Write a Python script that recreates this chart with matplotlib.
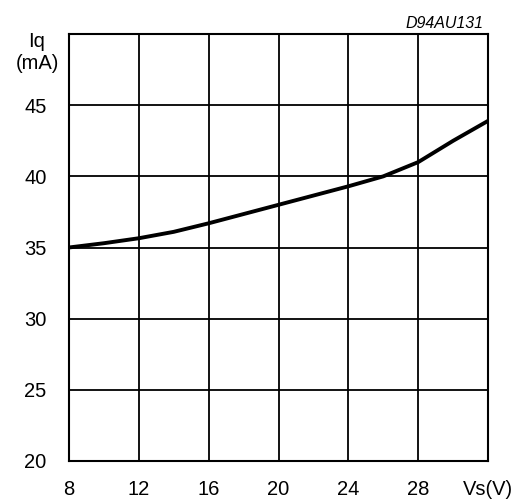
import matplotlib.pyplot as plt

plt.rcParams['font.family'] = ['Liberation Sans', 'DejaVu Sans']

# supply voltage (V) and quiescent current (mA)
vs = [8, 10, 12, 14, 16, 18, 20, 22, 24, 26, 27, 28, 30, 32]
iq = [35.0, 35.3, 35.65, 36.1, 36.7, 37.35, 38.0, 38.65, 39.3, 40.0, 40.5, 41.0, 42.5, 43.9]

x_ticks = [8, 12, 16, 20, 24, 28, 32]
x_labels = ['8', '12', '16', '20', '24', '28', 'Vs(V)']
y_ticks = [20, 25, 30, 35, 40, 45, 50]
y_labels = ['20', '25', '30', '35', '40', '45', '']

fig = plt.figure(figsize=(5.3, 5.0), dpi=100)
ax = fig.add_axes([0.130, 0.078, 0.791, 0.854])

ax.plot(vs, iq, color='black', linewidth=2.8, solid_capstyle='butt', zorder=3)

ax.set_xlim(8, 32)
ax.set_ylim(20, 50)
ax.set_xticks(x_ticks)
ax.set_xticklabels(x_labels)
ax.set_yticks(y_ticks)
ax.set_yticklabels(y_labels)
ax.tick_params(length=0, labelsize=14.5)
ax.tick_params(axis='x', pad=14)
ax.tick_params(axis='y', pad=16)
ax.grid(True, color='black', linewidth=1.3)
for sp in ax.spines.values():
    sp.set_linewidth(1.5)

ax.text(-0.076, 1.005, 'Iq\n(mA)', transform=ax.transAxes, ha='center', va='top',
        fontsize=14.5, linespacing=1.2)
ax.text(0.988, 1.006, 'D94AU131', transform=ax.transAxes, ha='right', va='bottom',
        fontsize=11.5, style='italic')

fig.savefig('out.png', dpi=100)
